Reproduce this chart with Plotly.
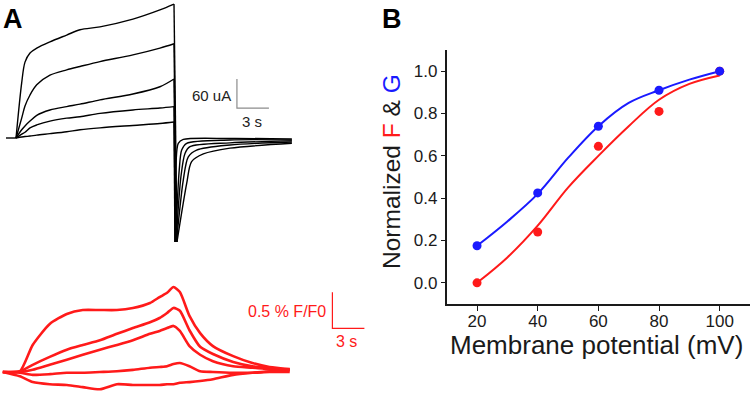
import plotly.graph_objects as go

# ---------------- Panel A: membrane currents (time in s, current in uA)
t_base = [0.0, 0.94]
t_step = [0.94, 1.47, 1.78, 2.25, 2.88, 4.12, 5.69, 6.94, 8.81, 11.9, 14.43, 15.75]
i_step_1 = [0, 114, 157, 176, 186, 199, 213, 224, 230, 246, 265, 277]
i_step_2 = [0, 41, 66, 89, 110, 130, 141, 148, 158, 172, 186, 195]
i_step_3 = [0, 17, 25, 35, 47, 58, 65, 70, 79, 91, 106, 122]
i_step_4 = [0, 8, 12, 21, 27, 35, 41, 44, 51, 58, 62, 65]
i_step_5 = [0, 2, 3, 4, 6, 9, 13, 17, 21, 26, 30, 33]

tail_t_1 = [16.03, 16.94, 17.40, 18.50, 21.0, 26.8]
tail_i_1 = [-215, -94, -49, -33, -21, -11]
tail_t_2 = [15.98, 16.62, 17.09, 17.87, 21.0, 26.8]
tail_i_2 = [-215, -87, -39, -25, -14.5, -8.3]
tail_t_3 = [15.94, 16.40, 16.78, 17.25, 21.0, 26.8]
tail_i_3 = [-215, -80, -32, -18, -10, -6]
tail_t_4 = [15.89, 16.24, 16.47, 16.94, 21.0, 26.8]
tail_i_4 = [-215, -66, -25, -11, -4, -4]
tail_t_5 = [15.84, 15.94, 16.15, 16.62, 21.0, 26.8]
tail_i_5 = [-215, -52, -11, -3, -1, -2]

# ---------------- Panel A: fluorescence (time in s, dF/F0 in %)
t_fluo = [-0.3, 1.3, 2.5, 4.1, 5.7, 7.2, 8.8, 10.4, 11.9, 13.5, 14.4, 15.1, 15.7,
          16.3, 17.2, 18.2, 19.4, 21.3, 23.1, 24.7, 26.6]
f_1 = [0, 0.01, 0.375, 0.667, 0.806, 0.861, 0.861, 0.861, 0.889, 0.958, 1.04, 1.10, 1.18,
       1.11, 0.78, 0.54, 0.36, 0.22, 0.125, 0.07, 0.04]
f_2 = [0, 0.01, 0.10, 0.21, 0.31, 0.375, 0.44, 0.53, 0.61, 0.69, 0.75, 0.82, 0.89,
       0.85, 0.58, 0.35, 0.25, 0.14, 0.08, 0.06, 0.03]
f_3 = [0, 0, 0.03, 0.10, 0.17, 0.24, 0.31, 0.375, 0.44, 0.53, 0.57, 0.61, 0.64,
       0.57, 0.36, 0.24, 0.15, 0.08, 0.06, 0.04, 0.03]
f_4 = [0, -0.01, -0.04, -0.03, -0.01, -0.01, 0.0, 0.01, 0.03, 0.06, 0.07, 0.08, 0.11,
       0.125, 0.08, 0.01, 0, -0.01, -0.01, 0, 0]
f_5 = [0, -0.06, -0.14, -0.17, -0.18, -0.21, -0.24, -0.17, -0.18, -0.18, -0.18, -0.17, -0.17,
       -0.15, -0.14, -0.125, -0.10, -0.04, -0.01, 0.01, 0.03]

# scale bars
bar_current_ua = 60
bar_fluo_pct = 0.5
bar_time_s = 3

# ---------------- Panel B
voltage = [20, 40, 60, 80, 100]
g_norm = [0.175, 0.425, 0.74, 0.91, 1.0]
f_norm = [0.0, 0.24, 0.645, 0.81, 1.0]
fit_voltage = [20, 30, 40, 50, 60, 70, 80, 90, 100]
g_fit = [0.175, 0.29, 0.42, 0.59, 0.74, 0.85, 0.91, 0.96, 1.0]
f_fit = [0.0, 0.12, 0.27, 0.45, 0.6, 0.74, 0.865, 0.94, 0.98]
y_ticks = [0.0, 0.2, 0.4, 0.6, 0.8, 1.0]

W, H = 756, 400
RED = "#ff1a1a"
BLUE = "#1a1aff"

# pixel scale of panel A (from the scale bars)
px_per_s = 32 / 3.0
px_per_ua = 29 / 60.0
px_per_pct = 36 / 0.5
t0_px, i0_py, f0_py = 6.0, 138.0, 372.0

t_range = [(0 - t0_px) / px_per_s, (W - t0_px) / px_per_s]
i_range = [(i0_py - H) / px_per_ua, i0_py / px_per_ua]
f_range = [(f0_py - H) / px_per_pct, f0_py / px_per_pct]

fig = go.Figure()

fig.add_trace(go.Scatter(x=t_base, y=[0, 0], mode="lines", line=dict(color="black", width=1.4),
                         xaxis="x2", yaxis="y2", showlegend=False, hoverinfo="skip"))
steps = [i_step_1, i_step_2, i_step_3, i_step_4, i_step_5]
tails = [(tail_t_1, tail_i_1), (tail_t_2, tail_i_2), (tail_t_3, tail_i_3),
         (tail_t_4, tail_i_4), (tail_t_5, tail_i_5)]
for st, (tt, ti) in zip(steps, tails):
    fig.add_trace(go.Scatter(x=t_step, y=st, mode="lines",
                             line=dict(color="black", width=1.4, shape="spline", smoothing=0.9),
                             xaxis="x2", yaxis="y2", showlegend=False, hoverinfo="skip"))
    fig.add_trace(go.Scatter(x=[t_step[-1], tt[0]], y=[st[-1], ti[0]], mode="lines",
                             line=dict(color="black", width=1.4),
                             xaxis="x2", yaxis="y2", showlegend=False, hoverinfo="skip"))
    fig.add_trace(go.Scatter(x=tt, y=ti, mode="lines",
                             line=dict(color="black", width=1.4, shape="spline", smoothing=0.8),
                             xaxis="x2", yaxis="y2", showlegend=False, hoverinfo="skip"))

# current scale bar
sb_t, sb_i = 21.65, 62
fig.add_trace(go.Scatter(x=[sb_t, sb_t, sb_t + bar_time_s], y=[sb_i + bar_current_ua, sb_i, sb_i],
                         mode="lines", line=dict(color="#8c8c8c", width=1.2),
                         xaxis="x2", yaxis="y2", showlegend=False, hoverinfo="skip"))

for f in [f_5, f_4, f_3, f_2, f_1]:
    fig.add_trace(go.Scatter(x=t_fluo, y=f, mode="lines",
                             line=dict(color=RED, width=2.6, shape="spline", smoothing=0.6),
                             xaxis="x2", yaxis="y3", showlegend=False, hoverinfo="skip"))

sf_t, sf_f = 30.6, 0.607
fig.add_trace(go.Scatter(x=[sf_t, sf_t, sf_t + bar_time_s], y=[sf_f + bar_fluo_pct, sf_f, sf_f],
                         mode="lines", line=dict(color=RED, width=1.2),
                         xaxis="x2", yaxis="y3", showlegend=False, hoverinfo="skip"))

# Panel B
fig.add_trace(go.Scatter(x=fit_voltage, y=f_fit, mode="lines",
                         line=dict(color=RED, width=2, shape="spline"), showlegend=False))
fig.add_trace(go.Scatter(x=fit_voltage, y=g_fit, mode="lines",
                         line=dict(color=BLUE, width=2, shape="spline"), showlegend=False))
fig.add_trace(go.Scatter(x=voltage, y=f_norm, mode="markers",
                         marker=dict(color=RED, size=9), showlegend=False))
fig.add_trace(go.Scatter(x=voltage, y=g_norm, mode="markers",
                         marker=dict(color=BLUE, size=9), showlegend=False))

font_a = "Liberation Sans, Arial"

fig.update_layout(
    width=W, height=H, margin=dict(l=0, r=0, t=0, b=0),
    paper_bgcolor="white", plot_bgcolor="rgba(0,0,0,0)",
    xaxis=dict(domain=[446.7 / W, 750 / W], range=[10, 110], tickvals=voltage,
               showline=True, linecolor="#1a1a1a", linewidth=1.6, ticks="outside",
               ticklen=5, tickwidth=1.4, tickcolor="#1a1a1a", showgrid=False, zeroline=False,
               tickfont=dict(family=font_a, size=17, color="#1a1a1a"), automargin=False,
               anchor="y"),
    yaxis=dict(domain=[(H - 304) / H, (H - 50) / H], range=[-0.1, 1.1], tickvals=y_ticks,
               tickformat=".1f", showline=True, linecolor="#1a1a1a", linewidth=1.6,
               ticks="outside", ticklen=4, tickwidth=1.4, tickcolor="#1a1a1a",
               showgrid=False, zeroline=False,
               tickfont=dict(family=font_a, size=17, color="#1a1a1a"), automargin=False,
               anchor="x"),
    xaxis2=dict(domain=[0, 1], range=t_range, visible=False, anchor="y2"),
    yaxis2=dict(domain=[0, 1], range=i_range, visible=False, anchor="x2"),
    yaxis3=dict(domain=[0, 1], range=f_range, visible=False, anchor="x2", overlaying="y2"),
)
try:
    fig.update_xaxes(ticklabelstandoff=-4, selector=dict(anchor="y"))
except Exception:
    pass

ann = [
    dict(x=1 / W, y=1 - 2 / H, text="<b>A</b>", font=dict(family=font_a, size=27, color="black"),
         xanchor="left", yanchor="top"),
    dict(x=380 / W, y=1 - 2 / H, text="<b>B</b>", font=dict(family=font_a, size=27, color="black"),
         xanchor="left", yanchor="top"),
    dict(x=596 / W, y=(H - 345) / H, text="Membrane potential (mV)",
         font=dict(family=font_a, size=26, color="#1a1a1a"), xanchor="center", yanchor="middle"),
    dict(x=391 / W, y=(H - 172) / H, textangle=-90,
         text="Normalized <span style='color:%s'>F</span> &amp; <span style='color:%s'>G</span>" % (RED, BLUE),
         font=dict(family=font_a, size=24.5, color="#1a1a1a"), xanchor="center", yanchor="middle"),
]
for a in ann:
    a.update(xref="paper", yref="paper", showarrow=False)
    fig.add_annotation(**a)

fig.add_annotation(x=sb_t - 0.35, y=sb_i + 25, xref="x2", yref="y2", text="60 uA",
                   showarrow=False, xanchor="right", yanchor="middle",
                   font=dict(family=font_a, size=15, color="#222"))
fig.add_annotation(x=sb_t + 1.45, y=sb_i - 27, xref="x2", yref="y2", text="3 s",
                   showarrow=False, xanchor="center", yanchor="middle",
                   font=dict(family=font_a, size=15, color="#222"))
fig.add_annotation(x=sf_t - 0.4, y=sf_f + 0.24, xref="x2", yref="y3", text="0.5 % F/F0",
                   showarrow=False, xanchor="right", yanchor="middle",
                   font=dict(family=font_a, size=16, color=RED))
fig.add_annotation(x=sf_t + 1.3, y=sf_f - 0.18, xref="x2", yref="y3", text="3 s",
                   showarrow=False, xanchor="center", yanchor="middle",
                   font=dict(family=font_a, size=16, color=RED))

fig.write_html("out.html", config={"displayModeBar": False},
               post_script="document.body.style.margin='0';document.body.style.padding='0';")
